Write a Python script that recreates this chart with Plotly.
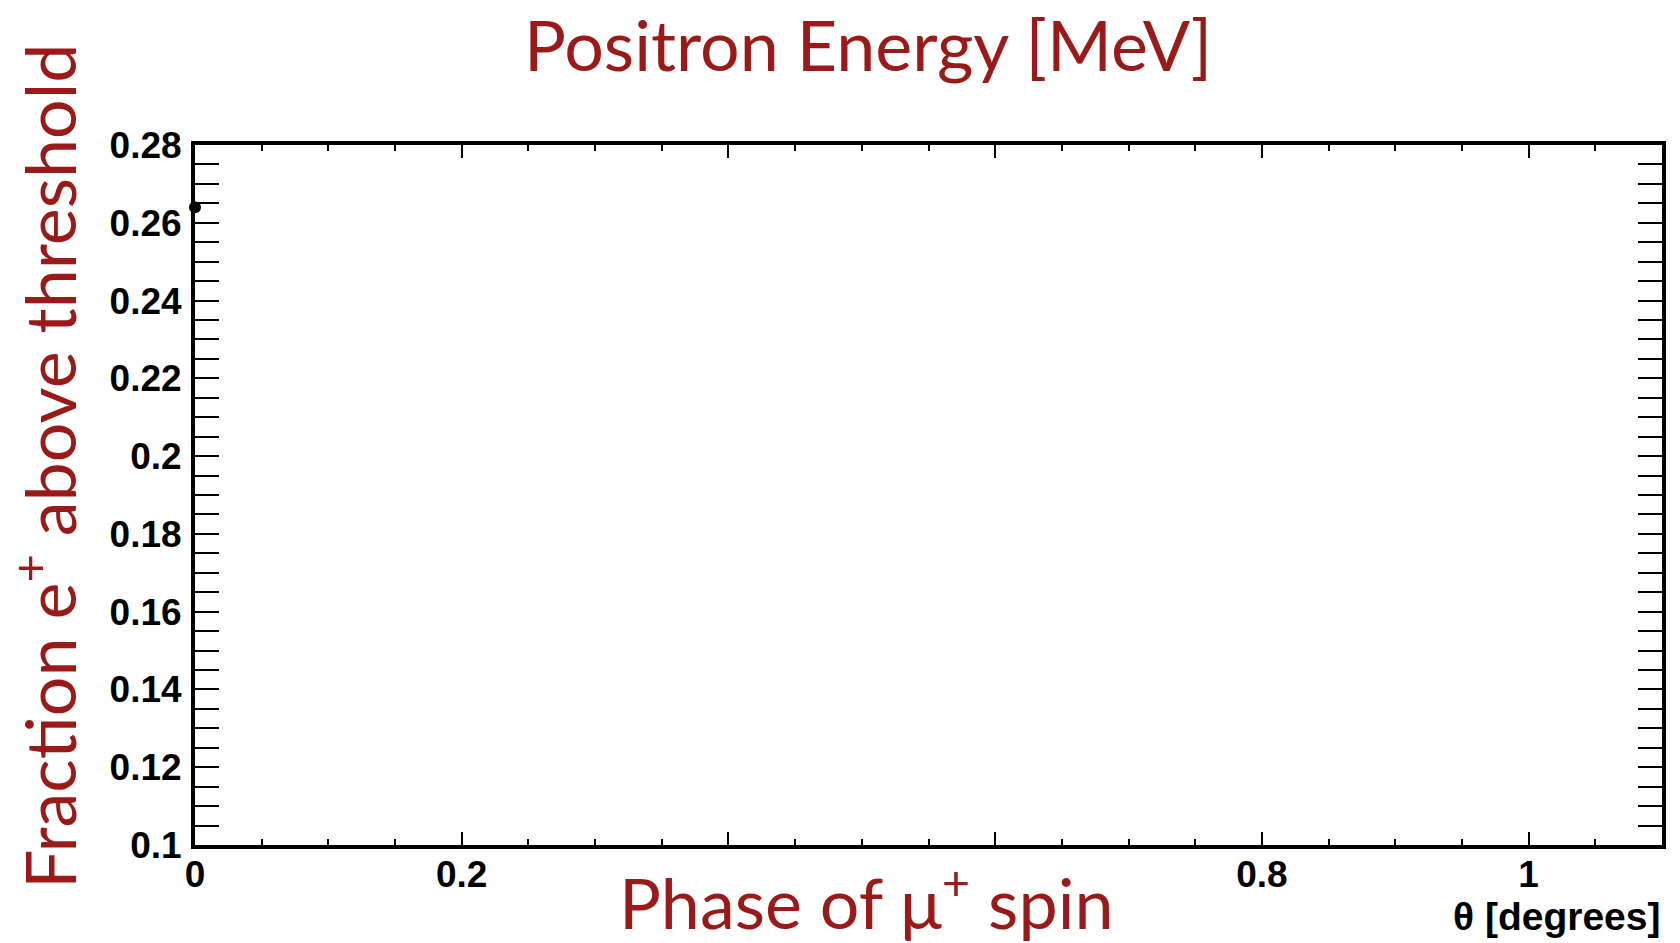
import plotly.graph_objects as go

# Measured point
theta_deg = [0.0]
fraction_above = [0.264]

# Axis ranges and tick labels
x_range = [0, 1.1]
y_range = [0.1, 0.28]
x_label_vals = [0, 0.2, 0.8, 1.0]
x_label_text = ["0", "0.2", "0.8", "1"]
x_unlabeled_major = [0.4, 0.6]
y_tickvals = [0.1, 0.12, 0.14, 0.16, 0.18, 0.2, 0.22, 0.24, 0.26, 0.28]
y_ticktext = ["0.1", "0.12", "0.14", "0.16", "0.18", "0.2", "0.22", "0.24", "0.26", "0.28"]

W, H = 1680, 943
L, R, T, B = 195, 18, 145, 98
RED = "#9a1a1a"
tick_font = dict(family="Liberation Sans, Arial, sans-serif", size=37, color="black", weight="bold")
slide_font = dict(family="Lato, sans-serif", size=70, color=RED)

fig = go.Figure()
fig.add_trace(go.Scatter(
    x=theta_deg, y=fraction_above, mode="markers",
    marker=dict(symbol="circle", size=12, color="black"),
    showlegend=False, cliponaxis=False,
))

axis_common = dict(
    showline=True, linewidth=4, linecolor="black", mirror="allticks",
    ticks="inside", tickcolor="black", showgrid=False, zeroline=False,
    tickfont=tick_font,
)

fig.update_xaxes(
    range=x_range, tickvals=x_label_vals, ticktext=x_label_text,
    ticklen=13, tickwidth=2, ticklabelstandoff=-6,
    minor=dict(dtick=0.05, ticks="inside", ticklen=6, tickwidth=2, tickcolor="black", showgrid=False),
    **axis_common,
)
fig.update_yaxes(
    range=y_range, tickvals=y_tickvals, ticktext=y_ticktext,
    ticklen=24, tickwidth=2, ticklabelstandoff=2,
    minor=dict(dtick=0.005, ticks="inside", ticklen=13, tickwidth=2, tickcolor="black", showgrid=False),
    **axis_common,
)

# Unlabelled major ticks at 0.4 and 0.6 on a twin axis
fig.update_layout(xaxis2=dict(
    overlaying="x", side="bottom", range=x_range, tickvals=x_unlabeled_major,
    showticklabels=False, ticks="inside", ticklen=13, tickwidth=2, tickcolor="black",
    showline=False, mirror="ticks", showgrid=False, zeroline=False,
))
fig.add_trace(go.Scatter(x=[], y=[], xaxis="x2", yaxis="y", showlegend=False))

pw, ph = W - L - R, H - T - B

def px(x):
    return (x - L) / pw

def py(y):
    return (H - B - y) / ph

annotations = [
    dict(text="Positron Energy [MeV]", x=px(868), y=py(44), xanchor="center", yanchor="middle",
         font=slide_font),
    dict(text="Fraction e<sup>+</sup> above threshold", x=px(45), y=py(467), textangle=-90,
         xanchor="center", yanchor="middle", font=slide_font),
    dict(text="Phase of μ<sup>+</sup> spin", x=px(866), y=py(898), xanchor="center", yanchor="middle",
         font=slide_font),
    dict(text="θ [degrees]", x=px(1662), y=py(916), xanchor="right", yanchor="middle",
         font=dict(family="Liberation Sans, Arial, sans-serif", size=39, color="black", weight="bold")),
]
for a in annotations:
    a.update(xref="paper", yref="paper", showarrow=False)

fig.update_layout(
    width=W, height=H, margin=dict(l=L, r=R, t=T, b=B, autoexpand=False),
    paper_bgcolor="white", plot_bgcolor="white",
    annotations=annotations,
)

fig.write_html("out.html")
